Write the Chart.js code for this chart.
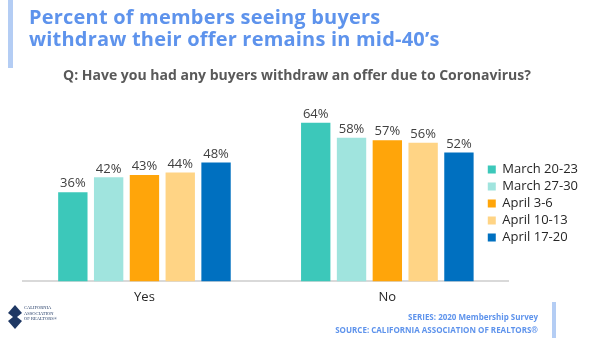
<!DOCTYPE html>
<html>
<head>
<meta charset="utf-8">
<script src="https://cdn.jsdelivr.net/npm/chart.js@4"></script>
<style>
  html, body { margin: 0; padding: 0; background: #fff; }
  #wrap { position: relative; width: 600px; height: 338px; overflow: hidden; font-family: "Open Sans", "DejaVu Sans", sans-serif; }
  #chart { position: absolute; left: 0; top: 0; }
  .accent { position: absolute; background: #b4cdf4; }
  #title { position: absolute; left: 29px; top: 6px; color: #5e93ec; font-weight: bold; font-size: 20px; line-height: 22px; letter-spacing: 0.2px; }
  #question { position: absolute; left: 63px; top: 65px; color: #595959; font-weight: bold; font-size: 14px; }
  #footer { position: absolute; right: 62px; top: 310px; color: #5e93ec; font-weight: bold; font-size: 8px; line-height: 13px; text-align: right; }
  #logo { position: absolute; left: 8px; top: 305px; }
  #logo span { position: absolute; left: 16px; top: 0; font-family: "Liberation Serif", serif; font-size: 4.5px; line-height: 5.5px; color: #1f3864; white-space: nowrap; }
</style>
</head>
<body>
<div id="wrap">
  <canvas id="chart" width="600" height="338"></canvas>
  <div class="accent" style="left:8px; top:0; width:5px; height:68px;"></div>
  <div id="title">Percent of members seeing buyers<br>withdraw their offer remains in mid-40’s</div>
  <div id="question">Q: Have you had any buyers withdraw an offer due to Coronavirus?</div>
  <div id="logo">
    <svg width="14" height="24" viewBox="0 0 14 24"><path d="M7 0 L14 8 L9 12 L14 16 L7 24 L0 16 L5 12 L0 8 Z" fill="#1f3864"/></svg>
    <span>CALIFORNIA<br>ASSOCIATION<br>OF REALTORS®</span>
  </div>
  <div id="footer">SERIES: 2020 Membership Survey<br>SOURCE: CALIFORNIA ASSOCIATION OF REALTORS®</div>
  <div class="accent" style="left:552px; top:302px; width:4px; height:36px;"></div>
</div>
<script>
const categories = ["Yes", "No"];
const waves = ["March 20-23", "March 27-30", "April 3-6", "April 10-13", "April 17-20"];
const march_20_23 = [36, 64];
const march_27_30 = [42, 58];
const april_3_6 = [43, 57];
const april_10_13 = [44, 56];
const april_17_20 = [48, 52];
const wave_colors = ["#3cc8ba", "#a0e4de", "#ffa50a", "#ffd485", "#0070c0"];

const series = [march_20_23, march_27_30, april_3_6, april_10_13, april_17_20];

// percent labels over each bar
const valueLabels = {
    id: "valueLabels",
    afterDatasetsDraw(chart) {
        const ctx = chart.ctx;
        ctx.save();
        ctx.font = "13px 'Open Sans', sans-serif";
        ctx.fillStyle = "#404040";
        ctx.textAlign = "center";
        ctx.textBaseline = "bottom";
        chart.data.datasets.forEach((ds, i) => {
            chart.getDatasetMeta(i).data.forEach((bar, j) => {
                ctx.fillText(ds.data[j] + "%", bar.x, bar.y - 2);
            });
        });
        ctx.restore();
    }
};

// legend sits a bit into the plot's right margin
const legendNudge = {
    id: "legendNudge",
    afterLayout(chart) {
        const lg = chart.legend;
        lg.left -= 25;
        lg.right -= 25;
        lg.top -= 7;
        lg.bottom -= 7;
    }
};

new Chart(document.getElementById("chart"), {
    type: "bar",
    data: {
        labels: categories,
        datasets: waves.map((name, i) => ({
            label: name,
            data: series[i],
            backgroundColor: wave_colors[i],
            borderWidth: 0,
            barPercentage: 0.82,
            categoryPercentage: 0.737
        }))
    },
    options: {
        responsive: false,
        animation: false,
        layout: { padding: { left: 23, top: 108, right: -13, bottom: 25 } },
        plugins: {
            legend: {
                position: "right",
                labels: {
                    boxWidth: 8,
                    boxHeight: 8,
                    padding: 4,
                    color: "#262626",
                    font: { size: 13, family: "'Open Sans', sans-serif" }
                }
            },
            tooltip: { enabled: false }
        },
        scales: {
            x: {
                grid: { display: false, drawTicks: false },
                border: { color: "#d9d9d9", width: 2 },
                ticks: { color: "#262626", padding: 8, font: { size: 13, family: "'Open Sans', sans-serif" } }
            },
            y: {
                display: false,
                min: 0,
                max: 70
            }
        }
    },
    plugins: [valueLabels, legendNudge]
});
</script>
</body>
</html>
